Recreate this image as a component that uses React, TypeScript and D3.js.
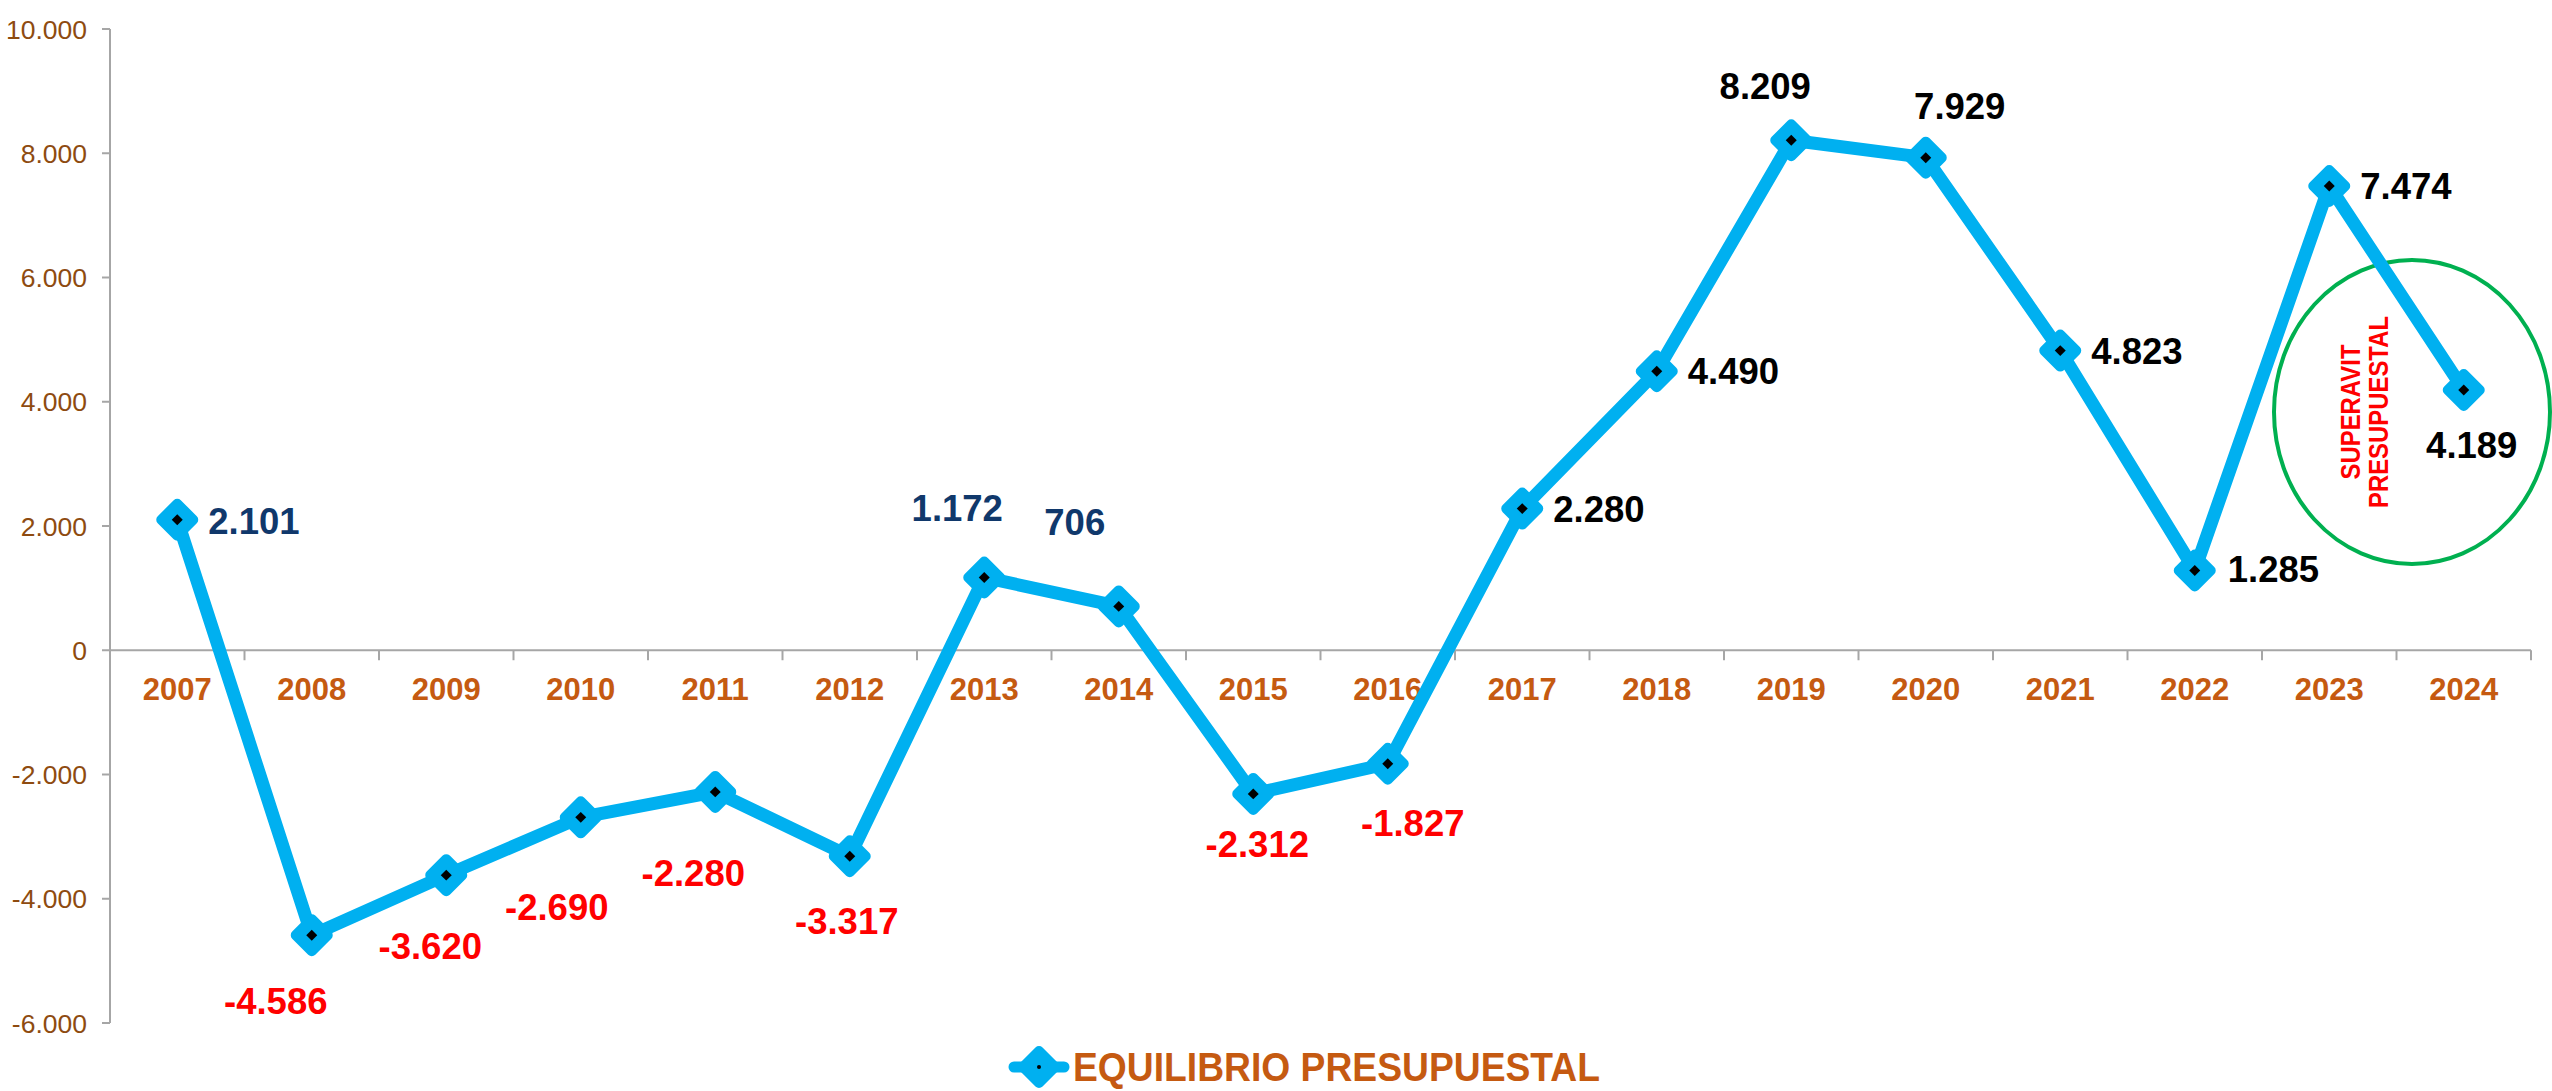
import React from "react";
import * as d3 from "d3";

const years = ["2007","2008","2009","2010","2011","2012","2013","2014","2015","2016","2017","2018","2019","2020","2021","2022","2023","2024"];
const values = [2101,-4586,-3620,-2690,-2280,-3317,1172,706,-2312,-1827,2280,4490,8209,7929,4823,1285,7474,4189];
const yTicks = [-6000,-4000,-2000,0,2000,4000,6000,8000,10000];
const seriesName = "EQUILIBRIO PRESUPUESTAL";
const noteLines = ["SUPERAVIT", "PRESUPUESTAL"];

// label placement relative to each point: anchor, dx, dy (vertical centre offset)
const labelPlacement: [string, number, number][] = [
  ["start", 31, 1],
  ["middle", -36, 66],
  ["middle", -16, 71],
  ["middle", -24, 90],
  ["middle", -22, 81],
  ["middle", -3, 65],
  ["middle", -27, -69],
  ["middle", -44, -84],
  ["middle", 4, 50],
  ["middle", 25, 59],
  ["start", 31, 0],
  ["start", 31, 0],
  ["middle", -26, -54],
  ["middle", 34, -52],
  ["start", 31, 0],
  ["start", 33, -1],
  ["start", 31, 0],
  ["middle", 8, 55],
];

const W = 2552, H = 1091;
const FONT = "'Liberation Sans', Arial, Helvetica, sans-serif";
const LINE = "#00B0F0";

const locale = d3.formatLocale({ decimal: ",", thousands: ".", grouping: [3], currency: ["", ""], minus: "-" });
const fmt = locale.format(",d");

function labelColor(i: number, v: number) {
  if (v < 0) return "#FF0000";
  if (+years[i] < 2017) return "#10386B";
  return "#000000";
}

export default function App() {
  const x = d3.scaleBand<string>().domain(years).range([110, 2531]).paddingInner(0).paddingOuter(0);
  const y = d3.scaleLinear().domain([-6000, 10000]).range([1023, 29]);
  const cx = (i: number) => (x(years[i]) as number) + x.bandwidth() / 2;

  const line = d3.line<number>().x((_, i) => cx(i)).y((v) => y(v));
  const outer = d3.symbol().type(d3.symbolSquare).size(512)() as string;
  const inner = d3.symbol().type(d3.symbolSquare).size(60)() as string;

  const y0 = y(0);
  const boundaries = years.map((yr) => x(yr) as number).concat([x.range()[1]]);

  const legY = 1067;

  return (
    <svg width={W} height={H} style={{ position: "absolute", left: 0, top: 0, background: "#fff" }} fontFamily={FONT}>
      {/* y axis */}
      <line x1={110} x2={110} y1={y(10000)} y2={y(-6000)} stroke="#A6A6A6" strokeWidth={2} />
      {yTicks.map((t) => (
        <g key={t}>
          <line x1={102} x2={110} y1={y(t)} y2={y(t)} stroke="#A6A6A6" strokeWidth={2} />
          <text x={87} y={y(t) + 9.5} textAnchor="end" fontSize={26.5} fill="#8E4B10">{fmt(t)}</text>
        </g>
      ))}
      {/* x axis */}
      <line x1={110} x2={x.range()[1]} y1={y0} y2={y0} stroke="#A6A6A6" strokeWidth={2} />
      {boundaries.map((b, i) => (
        <line key={i} x1={b} x2={b} y1={y0} y2={y0 + 10} stroke="#A6A6A6" strokeWidth={2} />
      ))}
      {years.map((yr, i) => (
        <text key={yr} x={cx(i)} y={700} textAnchor="middle" fontSize={31} fontWeight="bold" fill="#C55A11">{yr}</text>
      ))}

      {/* ellipse annotation */}
      <ellipse cx={2412} cy={412} rx={138} ry={152} fill="none" stroke="#00B050" strokeWidth={4} />
      <text transform={`translate(2360,412) rotate(-90)`} textAnchor="middle" fontSize={27} fontWeight="bold" fill="#FF0000" textLength={135} lengthAdjust="spacingAndGlyphs">{noteLines[0]}</text>
      <text transform={`translate(2388,412) rotate(-90)`} textAnchor="middle" fontSize={27} fontWeight="bold" fill="#FF0000" textLength={192} lengthAdjust="spacingAndGlyphs">{noteLines[1]}</text>

      {/* series line */}
      <path d={line(values) as string} fill="none" stroke={LINE} strokeWidth={13} strokeLinejoin="round" />
      {values.map((v, i) => (
        <g key={i} transform={`translate(${cx(i)},${y(v)}) rotate(45)`}>
          <path d={outer} fill={LINE} stroke={LINE} strokeWidth={10} strokeLinejoin="round" />
          <path d={inner} fill="#000" />
        </g>
      ))}

      {/* data labels */}
      {values.map((v, i) => {
        const [anchor, dx, dy] = labelPlacement[i];
        return (
          <text key={i} x={cx(i) + dx} y={y(v) + dy + 13} textAnchor={anchor as any} fontSize={36.5} fontWeight="bold" fill={labelColor(i, v)}>{fmt(v)}</text>
        );
      })}

      {/* legend */}
      <line x1={1014} x2={1064} y1={legY} y2={legY} stroke={LINE} strokeWidth={11} strokeLinecap="round" />
      <g transform={`translate(1039,${legY}) rotate(45)`}>
        <path d={outer} fill={LINE} stroke={LINE} strokeWidth={10} strokeLinejoin="round" />
      </g>
      <circle cx={1039} cy={legY} r={2} fill="#000" />
      <text x={1073} y={legY + 14} fontSize={41} fontWeight="bold" fill="#C55A11" textLength={527} lengthAdjust="spacingAndGlyphs">{seriesName}</text>
    </svg>
  );
}
